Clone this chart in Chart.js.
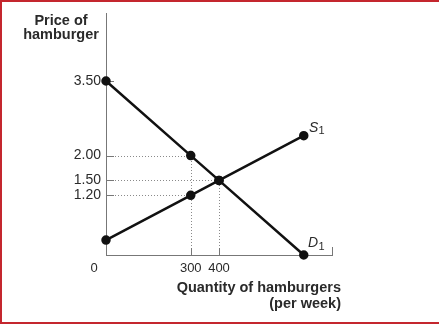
<!DOCTYPE html>
<html lang="en">
<head>
    <meta charset="UTF-8">
    <script src="https://cdn.jsdelivr.net/npm/chart.js"></script>
    <title>Hamburger market</title>
    <style>
      html, body { margin: 0; padding: 0; background: #fff; overflow: hidden; }
      canvas { display: block; }
    </style>
</head>
<body>
  <canvas id="grafico" width="439" height="324"></canvas>

<script>
  // dados
  const quantidade = [0, 300, 400, 700];
  const precoOferta = [0.3, 1.2, 1.5, 2.4];
  const precoDemanda = [3.5, 2.0, 1.5, 0];

  const ticksPreco = [1.2, 1.5, 2.0, 3.5];
  const ticksQtd = [300, 400];

  // pontos com linhas pontilhadas ate os eixos
  const guiaQtd = [300, 400, 300];
  const guiaPreco = [2.0, 1.5, 1.2];

  const fonte = '"Liberation Sans", Arial, sans-serif';

  function pares(xs, ys) {
    return xs.map((x, i) => ({ x: x, y: ys[i] }));
  }

  // linhas guia, marcas internas, moldura e textos
  const extras = {
    id: 'extras',
    beforeDatasetsDraw(chart) {
      const ctx = chart.ctx;
      const sx = chart.scales.x, sy = chart.scales.y;
      const x0 = sx.getPixelForValue(0), y0 = sy.getPixelForValue(0);
      ctx.save();
      ctx.strokeStyle = '#8a8a8a';
      ctx.lineWidth = 1;
      ctx.setLineDash([1, 2]);
      for (let i = 0; i < guiaQtd.length; i++) {
        const px = Math.round(sx.getPixelForValue(guiaQtd[i])) + 0.5;
        const py = Math.round(sy.getPixelForValue(guiaPreco[i])) + 0.5;
        ctx.beginPath();
        ctx.moveTo(x0, py); ctx.lineTo(px, py);
        ctx.moveTo(px, y0); ctx.lineTo(px, py);
        ctx.stroke();
      }
      ctx.setLineDash([]);
      ctx.strokeStyle = '#777';
      ctx.beginPath();
      ticksPreco.forEach(v => {
        const py = Math.round(sy.getPixelForValue(v)) + 0.5;
        ctx.moveTo(x0, py); ctx.lineTo(x0 + 8, py);
      });
      ticksQtd.forEach(v => {
        const px = Math.round(sx.getPixelForValue(v)) + 0.5;
        ctx.moveTo(px, y0); ctx.lineTo(px, y0 - 7);
      });
      const xf = Math.round(sx.right) + 0.5;
      ctx.moveTo(xf, y0); ctx.lineTo(xf, y0 - 8);
      ctx.stroke();
      ctx.restore();
    },
    afterDraw(chart) {
      const ctx = chart.ctx;
      const sx = chart.scales.x;
      ctx.save();

      // moldura vermelha (sem lado direito)
      ctx.fillStyle = '#c4262e';
      ctx.fillRect(0, 0, chart.width, 2);
      ctx.fillRect(0, 0, 2, chart.height);
      ctx.fillRect(0, chart.height - 2, chart.width, 2);

      ctx.fillStyle = '#2a2a2a';
      ctx.textBaseline = 'alphabetic';

      // origem
      ctx.font = '13px ' + fonte;
      ctx.textAlign = 'center';
      ctx.fillText('0', sx.getPixelForValue(0) - 12, 272);

      // titulo do eixo y
      ctx.font = 'bold 14.5px ' + fonte;
      ctx.fillText('Price of', 61, 25);
      ctx.fillText('hamburger', 61, 39);

      // titulo do eixo x
      ctx.textAlign = 'right';
      ctx.fillText('Quantity of hamburgers', 341, 292);
      ctx.fillText('(per week)', 341, 308);

      // rotulos das curvas
      ctx.textAlign = 'left';
      ctx.font = 'italic 14px ' + fonte;
      ctx.fillText('S', 309, 132);
      ctx.fillText('D', 308, 247);
      ctx.font = '11px ' + fonte;
      ctx.fillText('1', 318.5, 134);
      ctx.fillText('1', 318.5, 250);
      ctx.restore();
    }
  };

  const config = {
    type: 'scatter',
    data: {
      datasets: [
        {
          label: 'S1',
          data: pares(quantidade, precoOferta),
          showLine: true,
          clip: false,
          borderColor: '#111',
          backgroundColor: '#111',
          borderWidth: 2.5,
          pointRadius: 3.5,
          pointHoverRadius: 3.5
        },
        {
          label: 'D1',
          data: pares(quantidade, precoDemanda),
          showLine: true,
          clip: false,
          borderColor: '#111',
          backgroundColor: '#111',
          borderWidth: 2.5,
          pointRadius: 3.5,
          pointHoverRadius: 3.5
        }
      ]
    },
    options: {
      responsive: false,
      animation: false,
      layout: { padding: { top: 13, right: 107, left: 0, bottom: 0 } },
      plugins: { legend: { display: false }, tooltip: { enabled: false } },
      scales: {
        x: {
          type: 'linear',
          min: 0,
          max: 800,
          afterBuildTicks: s => { s.ticks = ticksQtd.map(v => ({ value: v })); },
          afterFit: s => { s.height = 69; },
          grid: { display: false, drawTicks: false },
          border: { display: true, color: '#777', width: 1 },
          ticks: { color: '#2a2a2a', font: { family: fonte, size: 13 }, padding: 6 }
        },
        y: {
          min: 0,
          max: 4.86,
          afterBuildTicks: s => { s.ticks = ticksPreco.map(v => ({ value: v })); },
          afterFit: s => { s.width = 106; },
          grid: { display: false, drawTicks: false },
          border: { display: true, color: '#777', width: 1 },
          ticks: { color: '#2a2a2a', font: { family: fonte, size: 14 }, padding: 5,
                   callback: v => Number(v).toFixed(2) }
        }
      }
    },
    plugins: [extras]
  };

  new Chart(document.getElementById('grafico'), config);
</script>
</body>
</html>
